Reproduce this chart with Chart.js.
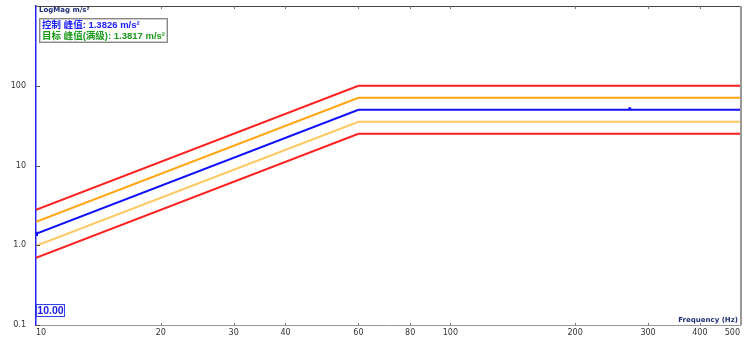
<!DOCTYPE html>
<html>
<head>
<meta charset="utf-8">
<script src="https://cdn.jsdelivr.net/npm/chart.js@4.4.1/dist/chart.umd.min.js"></script>
<style>
  html, body { margin: 0; padding: 0; background: #fff; }
  #wrap { width: 748px; height: 341px; }
</style>
</head>
<body>
<div id="wrap"><canvas id="chart" width="748" height="341"></canvas></div>
<script>
// breakpoints of the profile (Hz) and the levels (m/s²)
const freqs = [10, 60, 500];
const profile = [1.389, 50, 50];
const abortHigh = [2.778, 100, 100];
const alarmHigh = [1.964, 70.7, 70.7];
const alarmLow = [0.982, 35.4, 35.4];
const abortLow = [0.694, 25, 25];
// cursor marker
const markerFreq = [271];
const markerVal = [51.5];

const xTicks = [10, 20, 30, 40, 60, 80, 100, 200, 300, 400, 500];
const yTicks = [0.1, 1, 10, 100, 1000];
const yTickLabels = ['0.1', '1.0', '10', '100', ''];

const pts = (ys) => freqs.map((f, i) => ({x: f, y: ys[i]}));

// no label overflow padding, the plot box is fixed
const noPad = s => { s.paddingTop = s.paddingBottom = s.paddingLeft = s.paddingRight = 0; };

// borders, tick marks and the text overlays
const decor = {
  id: 'decor',
  afterDraw(chart) {
    const {ctx, chartArea: a, scales: {x, y}} = chart;
    ctx.save();
    // top + right border
    ctx.strokeStyle = '#444';
    ctx.lineWidth = 1;
    ctx.beginPath(); ctx.moveTo(a.left, a.top + 0.5); ctx.lineTo(a.right, a.top + 0.5); ctx.stroke();
    ctx.strokeStyle = '#999';
    ctx.lineWidth = 2;
    ctx.beginPath(); ctx.moveTo(a.right + 1, a.top); ctx.lineTo(a.right + 1, a.bottom); ctx.stroke();
    // tick marks (inside)
    ctx.strokeStyle = '#777';
    ctx.lineWidth = 1;
    xTicks.slice(1, -1).forEach(v => {
      const px = Math.round(x.getPixelForValue(v)) + 0.5;
      ctx.beginPath(); ctx.moveTo(px, a.bottom); ctx.lineTo(px, a.bottom - 2); ctx.stroke();
      ctx.beginPath(); ctx.moveTo(px, a.top); ctx.lineTo(px, a.top + 3); ctx.stroke();
    });
    ctx.strokeStyle = '#555';
    yTicks.forEach(v => {
      const py = Math.round(y.getPixelForValue(v)) + 0.5;
      ctx.beginPath(); ctx.moveTo(a.left, py); ctx.lineTo(a.left + 4, py); ctx.stroke();
    });

    // axis titles
    ctx.fillStyle = '#1c2f78';
    ctx.font = 'bold 7px "DejaVu Sans", sans-serif';
    ctx.textBaseline = 'middle';
    ctx.textAlign = 'left';
    ctx.fillText('LogMag m/s²', a.left + 3, a.top + 4);
    ctx.textAlign = 'right';
    ctx.fillText('Frequency (Hz)', a.right - 2, a.bottom - 5);

    // peak readout box
    ctx.fillStyle = '#fff';
    ctx.fillRect(39, 18, 129, 25);
    ctx.strokeStyle = '#888';
    ctx.lineWidth = 1;
    ctx.strokeRect(39.5, 18.5, 128, 24);
    ctx.strokeStyle = '#ccc';
    ctx.strokeRect(40.5, 19.5, 126, 22);
    ctx.textAlign = 'left';
    ctx.font = 'bold 9.5px "Liberation Sans", "Noto Sans CJK SC", sans-serif';
    ctx.fillStyle = '#1a1aff';
    ctx.fillText('控制 峰值: 1.3826 m/s²', 42, 25.5);
    ctx.fillStyle = '#1a9a1a';
    ctx.fillText('目标 峰值(满级): 1.3817 m/s²', 42, 36);

    // scale readout box
    ctx.fillStyle = '#fff';
    ctx.fillRect(36, 304, 29, 13);
    ctx.strokeStyle = '#3344ee';
    ctx.strokeRect(36.5, 304.5, 28, 12);
    ctx.fillStyle = '#1a1aee';
    ctx.font = 'bold 10.5px "Liberation Sans", sans-serif';
    ctx.textAlign = 'center';
    ctx.fillText('10.00', 50.5, 311);
    ctx.restore();
  }
};

const line = (label, ys, color, width) => ({
  label, data: pts(ys), borderColor: color, backgroundColor: color,
  borderWidth: width, pointRadius: 0, tension: 0
});

new Chart(document.getElementById('chart'), {
  type: 'line',
  data: {
    datasets: [
      line('Abort +', abortHigh, '#ff2020', 2),
      line('Alarm +', alarmHigh, '#ffa510', 2),
      line('Alarm -', alarmLow, '#ffc860', 2),
      line('Abort -', abortLow, '#ff2020', 2),
      Object.assign(line('Control', profile, '#1010ff', 2), {pointRadius: [1.5, 0, 0], pointStyle: 'rect'}),
      {
        label: 'Cursor',
        data: markerFreq.map((f, i) => ({x: f, y: markerVal[i]})),
        showLine: false, pointStyle: 'rect', pointRadius: 2,
        backgroundColor: '#1010ff', borderColor: '#1010ff', borderWidth: 0
      }
    ]
  },
  options: {
    responsive: false,
    animation: false,
    devicePixelRatio: 1,
    layout: {padding: {top: 5, right: 8, left: 0, bottom: 0}},
    plugins: {legend: {display: false}, tooltip: {enabled: false}},
    scales: {
      x: {
        type: 'logarithmic', min: 10, max: 500,
        afterBuildTicks: s => { s.ticks = xTicks.map(v => ({value: v})); },
        afterFit: s => { s.height = 16; noPad(s); },
        grid: {display: false, drawTicks: false},
        border: {display: true, color: '#999', width: 1},
        ticks: {
          autoSkip: false, maxRotation: 0, padding: 3, color: '#333', align: 'inner',
          font: {family: '"DejaVu Sans", sans-serif', size: 8},
          callback: v => String(v)
        }
      },
      y: {
        type: 'logarithmic', min: 0.1, max: 1000,
        afterBuildTicks: s => { s.ticks = yTicks.map(v => ({value: v})); },
        afterFit: s => { s.width = 36; noPad(s); },
        grid: {display: false, drawTicks: false},
        border: {display: true, color: '#2424ee', width: 1.5},
        ticks: {
          padding: 10, color: '#333',
          font: {family: '"DejaVu Sans", sans-serif', size: 8},
          callback: (v) => yTickLabels[yTicks.indexOf(v)] ?? ''
        }
      }
    }
  },
  plugins: [decor]
});
</script>
</body>
</html>
